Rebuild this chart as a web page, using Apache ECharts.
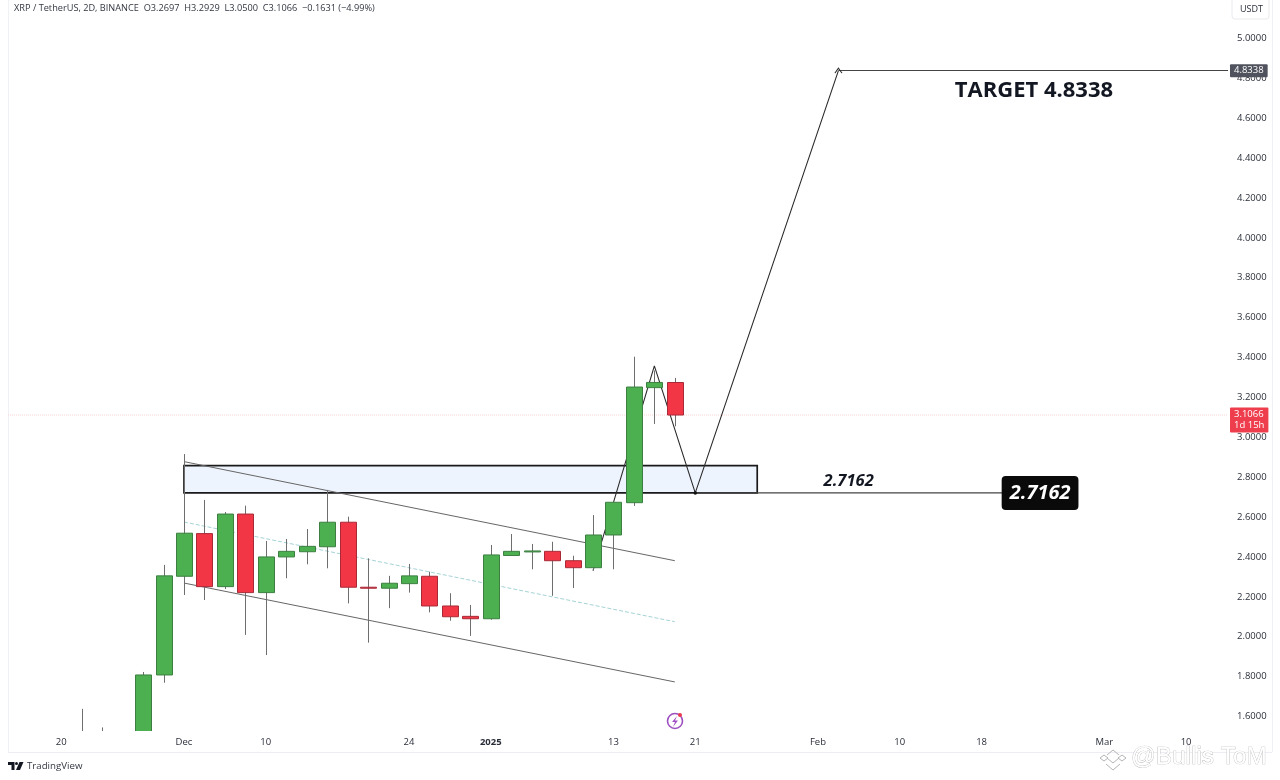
<!DOCTYPE html>
<html>
<head>
<meta charset="utf-8">
<style>html,body{margin:0;padding:0;background:#fff}#c{width:1280px;height:780px}</style>
<script src="https://cdn.jsdelivr.net/npm/echarts@6/dist/echarts.min.js"></script>
</head>
<body>
<div id="c"></div>
<script>
// Bar number (0 = the bar labelled 20) for each candle
const barIndex = [1,2,3,4,5,6,7,8,9,10,11,12,13,14,15,16,17,18,19,20,21,22,23,24,25,26,27,28,29,30];
const opens  = [1.42,1.45,1.40,1.45,1.803,2.298,2.512,2.246,2.610,2.216,2.395,2.421,2.446,2.569,2.243,2.238,2.261,2.298,2.149,2.097,2.085,2.402,2.423,2.423,2.376,2.341,2.505,2.667,3.244,3.2697];
const closes = [1.45,1.40,1.45,1.803,2.300,2.514,2.246,2.610,2.216,2.395,2.423,2.448,2.569,2.243,2.240,2.263,2.300,2.149,2.095,2.085,2.405,2.423,2.425,2.376,2.341,2.505,2.669,3.247,3.270,3.1066];
const lows   = [1.36,1.32,1.35,1.42,1.764,2.204,2.179,2.234,2.004,1.903,2.288,2.358,2.338,2.162,1.965,2.138,2.216,2.117,2.075,1.999,2.080,2.400,2.333,2.200,2.239,2.326,2.333,2.651,3.062,3.0500];
const highs  = [1.633,1.54,1.50,1.818,2.355,2.911,2.681,2.620,2.652,2.475,2.485,2.535,2.731,2.597,2.388,2.300,2.360,2.321,2.213,2.154,2.455,2.510,2.460,2.471,2.401,2.605,2.673,3.399,3.330,3.2929];

const yTicks = [1.6,1.8,2.0,2.2,2.4,2.6,2.8,3.0,3.2,3.4,3.6,3.8,4.0,4.2,4.4,4.6,4.8,5.0];
const xTickBars = [0,6,10,17,21,27,31,37,41,45,51,55];
const xTickLabels = ['20','Dec','10','24','2025','13','21','Feb','10','18','Mar','10'];

const channelUpper = [[6,2.873],[30,2.376]];
const channelMiddle = [[6,2.570],[30,2.070]];
const channelLower = [[6,2.264],[30,1.768]];
const projection = [[26,2.326],[29,3.353],[31,2.7162],[38,4.8338]];
const targetLine = [[31,2.7162],[47.86,2.7162]];
const zone = [6,34.03,2.7162,2.853];
const targetPrice = 4.8338;
const lastPrice = 3.1066;
const xMin = -2.606, xMax = 57.05, yMin = 1.522, yMax = 5.188;
const candles = barIndex.map((b,i)=>[b,opens[i],closes[i],lows[i],highs[i]]);

const FONT = '"Open Sans"';
const chart = echarts.init(document.getElementById('c'), null, {renderer:'canvas'});
const plainLine = (data,color,width,type,z)=>({type:'line',data,symbol:'none',silent:true,z,
  lineStyle:{color,width,type},clip:true,animation:false});
const note = (x,y,text,label)=>({type:'scatter',symbol:'circle',symbolSize:1,z:8,silent:true,clip:false,
  itemStyle:{color:'rgba(0,0,0,0)',opacity:1},data:[{value:[x,y],name:text}],
  label:Object.assign({show:true,position:'inside',formatter:'{b}',fontFamily:FONT},label)});

chart.setOption({
  animation:false,
  backgroundColor:'#fff',
  grid:{left:8,right:52,top:0,bottom:49,containLabel:false},
  xAxis:{type:'value',min:xMin,max:xMax,splitLine:{show:false},axisLine:{show:false},axisTick:{show:false},
    axisLabel:{customValues:xTickBars,margin:6,fontSize:9.5,color:'#2a2e39',fontFamily:FONT,
      formatter:v=>{const s=xTickLabels[xTickBars.indexOf(Math.round(v))];return s==='2025'?'{b|2025}':s;},
      rich:{b:{fontWeight:'bold',fontSize:9.5,color:'#2a2e39',fontFamily:FONT}}}},
  yAxis:{type:'value',position:'right',min:yMin,max:yMax,splitLine:{show:false},axisLine:{show:false},axisTick:{show:false},
    axisLabel:{customValues:yTicks,margin:9,fontSize:9.5,verticalAlign:'top',lineHeight:2,color:'#2a2e39',fontFamily:FONT,formatter:v=>v.toFixed(4)}},
  series:[
    {type:'custom',z:1,silent:true,clip:true,data:[zone],
      renderItem:(p,api)=>{
        const a=api.coord([api.value(0),api.value(3)]),b=api.coord([api.value(1),api.value(2)]);
        return {type:'rect',shape:{x:a[0],y:a[1],width:b[0]-a[0],height:b[1]-a[1]},
          style:{fill:'#eef4fd',stroke:'#1a1a1a',lineWidth:1.7}};
      },encode:{x:[0,1],y:[2,3]}},
    plainLine([[xMin,lastPrice],[xMax,lastPrice]],'#fbd3d6',1,[1,1],1),
    plainLine(channelUpper,'#666',1,'solid',2),
    plainLine(channelLower,'#666',1,'solid',2),
    plainLine(channelMiddle,'#a5d3d6',1,'dashed',2),
    plainLine(projection,'#2b2b2b',1.1,'solid',3),
    plainLine(targetLine,'#444',1.1,'solid',3),
    {type:'custom',z:4,silent:true,clip:true,data:candles,encode:{x:0,y:[1,2,3,4]},
      renderItem:(p,api)=>{
        const o=api.value(1),c=api.value(2),x=api.coord([api.value(0),o])[0];
        const yTop=api.coord([0,Math.max(o,c)])[1],yBot=api.coord([0,Math.min(o,c)])[1];
        const yHi=api.coord([0,api.value(4)])[1],yLo=api.coord([0,api.value(3)])[1];
        const up=c>=o,cx=Math.round(x)+0.5;
        return {type:'group',children:[
          {type:'line',shape:{x1:cx,y1:yHi,x2:cx,y2:yLo},style:{stroke:'#6e6e6e',lineWidth:1}},
          {type:'rect',shape:{x:cx-8,y:yTop,width:16,height:Math.max(yBot-yTop,1)},
            style:{fill:up?'#4caf50':'#f23645',stroke:up?'#3c7f40':'#a82a38',lineWidth:1}}
        ]};
      }},
    // projection dot and arrow head
    {type:'scatter',z:6,silent:true,symbol:'circle',symbolSize:3.5,itemStyle:{color:'#111',opacity:1},data:[[31,2.7162]]},
    {type:'scatter',z:6,silent:true,symbol:'path://M0,10 L5,0 L10,10',symbolSize:[7,5],
      itemStyle:{color:'rgba(0,0,0,0)',borderColor:'#2b2b2b',borderWidth:1,opacity:1},data:[[38,4.8338]]},
    // right-hand price tags and their lines
    {type:'line',z:7,silent:true,data:[],symbol:'none',
      markLine:{silent:true,symbol:'none',animation:false,data:[
        [{coord:[38,targetPrice],lineStyle:{color:'#444',width:1.1,type:'solid'},
          label:{show:true,position:'end',distance:2,formatter:targetPrice.toFixed(4),color:'#fff',fontSize:9.5,lineHeight:11,fontFamily:FONT,
            backgroundColor:'#50535e',padding:[1,4,1,4],borderRadius:1}},
         {coord:[xMax,targetPrice]}],
        [{coord:[xMin,lastPrice],lineStyle:{color:'rgba(0,0,0,0)'},
          label:{show:true,position:'end',distance:2,offset:[0,5],formatter:lastPrice.toFixed(4)+'\n1d 15h',color:'#fff',fontSize:9.5,lineHeight:11.5,fontFamily:FONT,
            backgroundColor:'#ee3e4d',padding:[1,4,1,4],borderRadius:1}},
         {coord:[xMax,lastPrice]}]
      ]}},
    note(47.56,4.732,'TARGET 4.8338',{fontSize:22,fontWeight:'bold',color:'#131722'}),
    note(38.5,2.776,'2.7162',{fontSize:16.5,fontWeight:'bold',fontStyle:'italic',color:'#131722'}),
    note(47.86,2.7162,'2.7162',{fontSize:20,fontWeight:'bold',fontStyle:'italic',color:'#fff',
      backgroundColor:'#0a0a0a',borderRadius:4,padding:[8,8,6,8]})
  ],
  graphic:[
    {type:'line',z:0,silent:true,shape:{x1:8.5,y1:0,x2:8.5,y2:752},style:{stroke:'#f0f1f4',lineWidth:1}},
    {type:'line',z:0,silent:true,shape:{x1:8,y1:752.5,x2:1272,y2:752.5},style:{stroke:'#eceef2',lineWidth:1}},
    {type:'line',z:0,silent:true,shape:{x1:1272.5,y1:0,x2:1272.5,y2:752},style:{stroke:'#f0f1f4',lineWidth:1}},
    {type:'text',silent:true,x:14,y:4,style:{text:'XRP / TetherUS, 2D, BINANCE  O3.2697  H3.2929  L3.0500  C3.1066  −0.1631 (−4.99%)',
      font:'9.2px '+FONT,fill:'#333742'}},
    {type:'rect',silent:true,shape:{x:1232,y:-2,width:37,height:21,r:3},style:{fill:'#fff',stroke:'#e9eaee',lineWidth:1}},
    {type:'text',silent:true,x:1240,y:5,style:{text:'USDT',font:'9px '+FONT,fill:'#2a2e39'}},
    // TradingView mark
    {type:'polygon',silent:true,shape:{points:[[8,762],[14.5,762],[14.5,770],[11.5,770],[11.5,765],[8,765]]},style:{fill:'#131722'}},
    {type:'polygon',silent:true,shape:{points:[[19.5,762],[23.5,762],[20,770],[16,770]]},style:{fill:'#131722'}},
    {type:'circle',silent:true,shape:{cx:16.5,cy:763.5,r:1.5},style:{fill:'#131722'}},
    {type:'text',silent:true,x:27,y:761.5,style:{text:'TradingView',font:'9.7px '+FONT,fill:'#333742'}},
    // charging icon
    {type:'circle',silent:true,shape:{cx:675,cy:721,r:7.5},style:{fill:'#fff',stroke:'#9c4fc0',lineWidth:1.6}},
    {type:'polygon',silent:true,shape:{points:[[677,716],[672,722],[675,722],[673,727],[678,720.5],[675,720.5]]},style:{fill:'#a04fc4'}},
    {type:'circle',silent:true,shape:{cx:680,cy:715,r:2},style:{fill:'#e93a50'}},
    // watermark
    {type:'text',silent:true,z:20,x:1131,y:745,style:{text:'@Bullis ToM',font:'24.4px "Liberation Sans"',fill:'#fff',stroke:'#b5b5b5',lineWidth:0.7}},
    {type:'polyline',silent:true,z:20,shape:{points:[[1107,755],[1113,750],[1119,755]]},style:{fill:'none',stroke:'#b5b5b5',lineWidth:1}},
    {type:'polyline',silent:true,z:20,shape:{points:[[1100,758],[1104,755],[1108,758],[1104,761],[1100,758]]},style:{fill:'none',stroke:'#b5b5b5',lineWidth:1}},
    {type:'polyline',silent:true,z:20,shape:{points:[[1118,758],[1122,755],[1126,758],[1122,761],[1118,758]]},style:{fill:'none',stroke:'#b5b5b5',lineWidth:1}},
    {type:'polyline',silent:true,z:20,shape:{points:[[1107,758],[1113,763],[1119,758]]},style:{fill:'none',stroke:'#b5b5b5',lineWidth:1}},
    {type:'polyline',silent:true,z:20,shape:{points:[[1106,764],[1113,770],[1120,764]]},style:{fill:'none',stroke:'#b5b5b5',lineWidth:1}}
  ]
});
</script>
</body>
</html>
